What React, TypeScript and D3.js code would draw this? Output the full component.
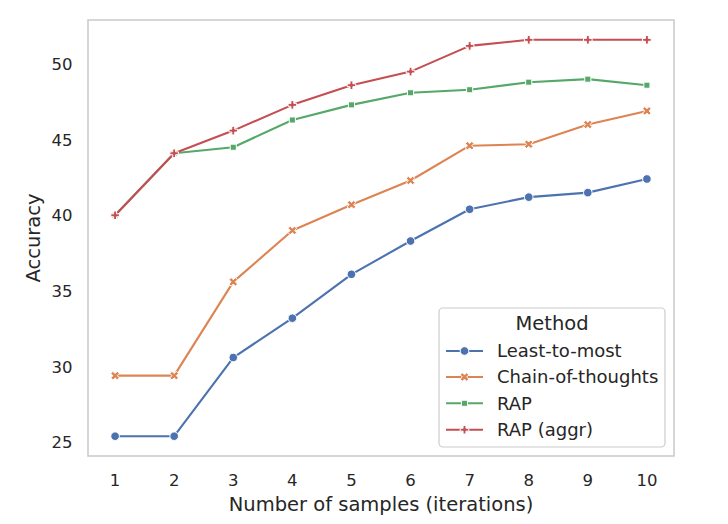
import React from "react";
import * as d3 from "d3";

const samples = [1, 2, 3, 4, 5, 6, 7, 8, 9, 10];
const seriesNames = ["Least-to-most", "Chain-of-thoughts", "RAP", "RAP (aggr)"];
const leastToMost = [25.4, 25.4, 30.6, 33.2, 36.1, 38.3, 40.4, 41.2, 41.5, 42.4];
const chainOfThoughts = [29.4, 29.4, 35.6, 39.0, 40.7, 42.3, 44.6, 44.7, 46.0, 46.9];
const rap = [40.0, 44.1, 44.5, 46.3, 47.3, 48.1, 48.3, 48.8, 49.0, 48.6];
const rapAggr = [40.0, 44.1, 45.6, 47.3, 48.6, 49.5, 51.2, 51.6, 51.6, 51.6];
const yTicks = [25, 30, 35, 40, 45, 50];
const colors = ["#4C72B0", "#DD8452", "#55A868", "#C44E52"];
const markers = ["circle", "x", "square", "plus"];

const W = 728;
const H = 524;
const left = 88, right = 674, top = 20, bottom = 456;
const FONT = "DejaVu Sans, sans-serif";
const TEXT = "#262626";
const MS = 8.6;

function markerPath(kind: string, cx: number, cy: number, ms: number): string {
  const s = ms;
  if (kind === "circle") {
    const r = s / 2;
    return `M${cx - r},${cy}a${r},${r} 0 1,0 ${2 * r},0a${r},${r} 0 1,0 ${-2 * r},0Z`;
  }
  if (kind === "square") {
    const h = (s / 2) * Math.SQRT1_2;
    return `M${cx - h},${cy - h}L${cx + h},${cy - h}L${cx + h},${cy + h}L${cx - h},${cy + h}Z`;
  }
  let pts: number[][];
  if (kind === "plus") {
    pts = [[-1, -3], [1, -3], [1, -1], [3, -1], [3, 1], [1, 1], [1, 3], [-1, 3], [-1, 1], [-3, 1], [-3, -1], [-1, -1]].map(([a, b]) => [a / 6, b / 6]);
  } else {
    pts = [[-1, -2], [0, -1], [1, -2], [2, -1], [1, 0], [2, 1], [1, 2], [0, 1], [-1, 2], [-2, 1], [-1, 0], [-2, -1]].map(([a, b]) => [a / 4, b / 4]);
  }
  return "M" + pts.map(([a, b]) => `${cx + a * s},${cy + b * s}`).join("L") + "Z";
}

export default function App() {
  const data = [leastToMost, chainOfThoughts, rap, rapAggr];
  const x = d3.scaleLinear().domain([0.55, 10.45]).range([left + 0.5, right - 0.5]);
  const allVals = data.flat();
  const ymin = d3.min(allVals)!, ymax = d3.max(allVals)!;
  const pad = (ymax - ymin) * 0.05;
  const y = d3.scaleLinear().domain([ymin - pad, ymax + pad]).range([bottom, top]);
  const line = d3.line<number>().x((_, i) => x(samples[i])).y((d) => y(d));

  const legX = 439, legY = 308, legW = 226, legH = 139;
  const entryY = [351, 377, 403.3, 429.7];

  return (
    <svg width={W} height={H} style={{ position: "absolute", left: 0, top: 0, background: "#fff" }} fontFamily={FONT}>
      <rect x={0} y={0} width={W} height={H} fill="#fff" />
      <rect x={left} y={top} width={right - left} height={bottom - top} fill="#fff" stroke="#cccccc" strokeWidth={1.6} />
      {yTicks.map((t) => (
        <text key={t} x={72.5} y={y(t)} dy="0.36em" textAnchor="end" fontSize={16.5} fill={TEXT}>{t}</text>
      ))}
      {samples.map((s) => (
        <text key={s} x={x(s)} y={486.2} textAnchor="middle" fontSize={16.5} fill={TEXT}>{s}</text>
      ))}
      <text x={(left + right) / 2} y={510.5} textAnchor="middle" fontSize={19.5} fill={TEXT}>Number of samples (iterations)</text>
      <text transform={`translate(39.5,${(top + bottom) / 2}) rotate(-90)`} textAnchor="middle" fontSize={19.5} fill={TEXT}>Accuracy</text>
      {data.map((vals, k) => (
        <g key={k}>
          <path d={line(vals) || ""} fill="none" stroke={colors[k]} strokeWidth={2.1} strokeLinejoin="round" strokeLinecap="round" />
          {vals.map((v, i) => (
            <path key={i} d={markerPath(markers[k], x(samples[i]), y(v), MS)} fill={colors[k]} stroke="#fff" strokeWidth={1} />
          ))}
        </g>
      ))}
      <rect x={legX} y={legY} width={legW} height={legH} rx={4} fill="#fff" fillOpacity={0.8} stroke="#cccccc" strokeWidth={1.2} />
      <text x={legX + legW / 2} y={330} textAnchor="middle" fontSize={19.5} fill={TEXT}>Method</text>
      {seriesNames.map((n, k) => (
        <g key={n}>
          <line x1={446} x2={483} y1={entryY[k]} y2={entryY[k]} stroke={colors[k]} strokeWidth={2.1} />
          <path d={markerPath(markers[k], 464.5, entryY[k], MS)} fill={colors[k]} stroke="#fff" strokeWidth={1} />
          <text x={497} y={entryY[k]} dy="0.36em" fontSize={18} fill={TEXT}>{n}</text>
        </g>
      ))}
    </svg>
  );
}
